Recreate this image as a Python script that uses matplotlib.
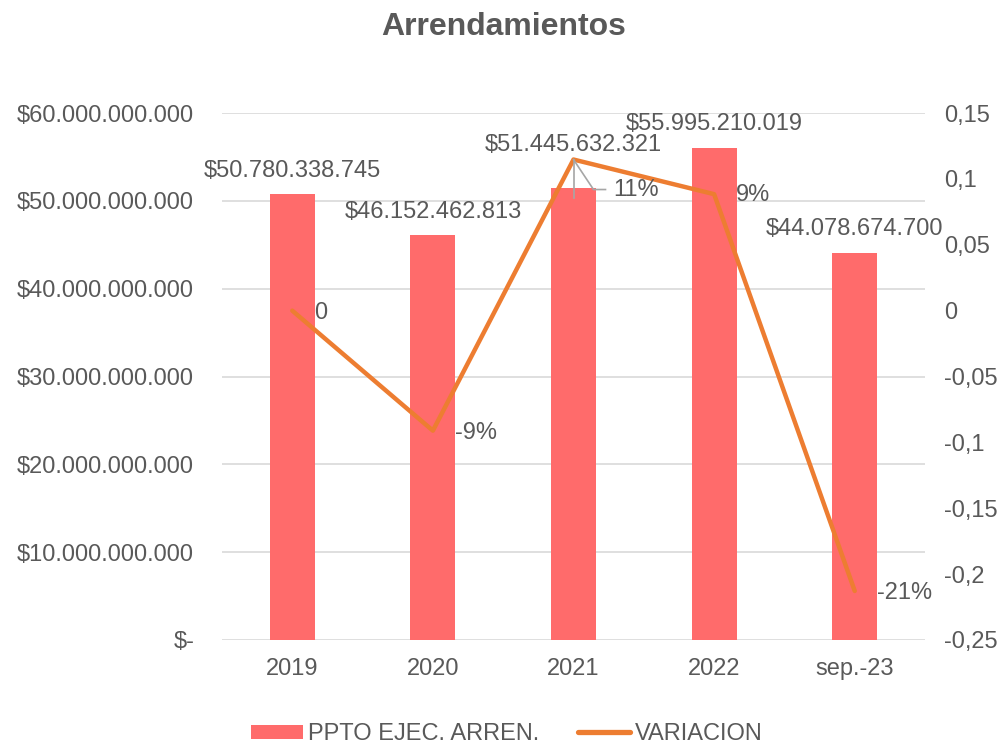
import numpy as np
import matplotlib.pyplot as plt
from matplotlib.lines import Line2D
from matplotlib.patches import Patch
import matplotlib.ticker as mticker

plt.rcParams['font.family'] = ['Liberation Sans', 'DejaVu Sans']

# data
categorias = ['2019', '2020', '2021', '2022', 'sep.-23']
presupuesto = [50780338745, 46152462813, 51445632321, 55995210019, 44078674700]
variacion = [0.0, -0.0911, 0.1147, 0.0884, -0.2128]
etiquetas_pres = ['$50.780.338.745', '$46.152.462.813', '$51.445.632.321',
                  '$55.995.210.019', '$44.078.674.700']
etiquetas_var = ['0', '-9%', '11%', '9%', '-21%']

color_barra = '#FF6B6B'
color_linea = '#ED7D31'
gris_texto = '#595959'
gris_grid = '#D9D9D9'
fs = 17

def fmt_pesos(v, p):
    if v == 0:
        return '$-'
    return '$' + format(int(round(v)), ',').replace(',', '.')

def fmt_var(v, p):
    s = ('%.2f' % v).rstrip('0').rstrip('.')
    if s == '-0':
        s = '0'
    return s.replace('.', ',')

fig = plt.figure(figsize=(10.08, 7.46), dpi=100)
ax = fig.add_axes([0.2202, 0.1421, 0.6975, 0.7064])
ax2 = ax.twinx()

x = np.arange(len(categorias))
ax.bar(x, presupuesto, width=0.32, color=color_barra, zorder=2)
ax.set_xlim(-0.5, 4.5)
ax.set_ylim(0, 60e9)
ax.set_yticks(np.arange(0, 60e9 + 1, 10e9))
ax.yaxis.set_major_formatter(mticker.FuncFormatter(fmt_pesos))
ax.set_xticks(x)
ax.set_xticklabels(categorias)
ax.grid(axis='y', color=gris_grid, linewidth=1.2, zorder=0)
ax.set_axisbelow(True)

ax2.plot(x, variacion, color=color_linea, linewidth=3.2, solid_capstyle='round', zorder=3)
ax2.set_ylim(-0.25, 0.15)
ax2.set_yticks(np.arange(-0.25, 0.1501, 0.05))
ax2.yaxis.set_major_formatter(mticker.FuncFormatter(fmt_var))

for a in (ax, ax2):
    for s in a.spines.values():
        s.set_visible(False)
    a.tick_params(length=0, labelsize=fs, labelcolor=gris_texto)
ax.tick_params(axis='y', pad=20)
ax.tick_params(axis='x', pad=13)
ax2.tick_params(axis='y', pad=14)

# etiquetas de barras (desplazamiento en pixeles)
desp_barras = [23, 23, 43, 24, 24]
for i in range(len(x)):
    ax.annotate(etiquetas_pres[i], (x[i], presupuesto[i]), xytext=(0, desp_barras[i]),
                textcoords='offset pixels', ha='center', va='center',
                fontsize=fs, color=gris_texto, zorder=5)

# etiquetas de la linea
desp_linea = [(22, -2), (22, -2), (40, -30), (22, -1), (22, -2)]
for i in range(len(x)):
    ax2.annotate(etiquetas_var[i], (x[i], variacion[i]), xytext=desp_linea[i],
                 textcoords='offset pixels', ha='left', va='center',
                 fontsize=fs, color=gris_texto, zorder=5)

# linea guia de la etiqueta 11%
px, py = ax2.transData.transform((x[2], variacion[2]))
inv = ax2.transData.inverted()
pts = [inv.transform((px, py)), inv.transform((px + 20, py - 30)), inv.transform((px + 32, py - 30))]
ax2.plot([p[0] for p in pts], [p[1] for p in pts], color='#A6A6A6', linewidth=1.2, zorder=4)
p4 = inv.transform((px, py - 38))
ax2.plot([x[2], p4[0]], [variacion[2], p4[1]], color='#A6A6A6', linewidth=1.2, zorder=4)

fig.suptitle('Arrendamientos', x=0.5, y=0.964, va='center', fontsize=23,
             fontweight='bold', color=gris_texto)

handles = [Patch(facecolor=color_barra, edgecolor='none'),
           Line2D([0], [0], color=color_linea, linewidth=3.8, solid_capstyle='round')]
fig.legend(handles, ['PPTO EJEC. ARREN.', 'VARIACION'], loc='center',
           bbox_to_anchor=(0.503, 0.016), ncol=2, frameon=False, fontsize=fs,
           labelcolor=gris_texto, handlelength=2.2, handleheight=0.55,
           handletextpad=0.2, columnspacing=1.65, borderpad=0, borderaxespad=0)

fig.savefig('out.png', dpi=100)
